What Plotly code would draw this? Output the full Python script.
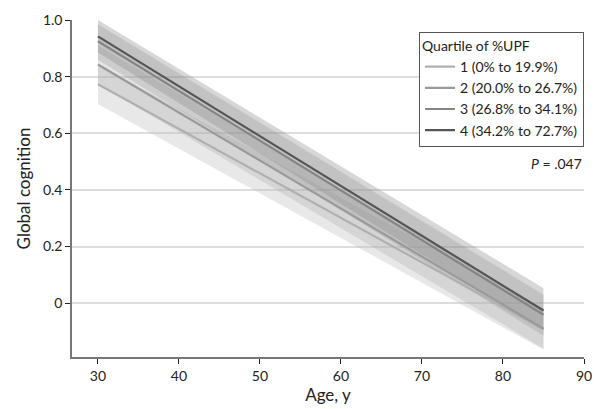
import plotly.graph_objects as go

ages = [30, 85]
quartiles = ["1 (0% to 19.9%)", "2 (20.0% to 26.7%)", "3 (26.8% to 34.1%)", "4 (34.2% to 72.7%)"]
mean_start = [0.773, 0.843, 0.925, 0.942]
mean_end = [-0.092, -0.090, -0.041, -0.026]
lower_start = [0.703, 0.775, 0.860, 0.885]
upper_start = [0.843, 0.910, 0.985, 1.000]
lower_end = [-0.164, -0.160, -0.115, -0.095]
upper_end = [-0.020, -0.020, 0.030, 0.053]
line_colors = ["#b0b0b0", "#9a9a9a", "#858585", "#555555"]
band_colors = ["rgba(190,190,190,0.35)", "rgba(170,170,170,0.3)", "rgba(150,150,150,0.3)", "rgba(140,140,140,0.35)"]

FONT = "Lato, sans-serif"

fig = go.Figure()
for i in range(4):
    fig.add_trace(go.Scatter(
        x=ages + ages[::-1],
        y=[lower_start[i], lower_end[i], upper_end[i], upper_start[i]],
        fill="toself", fillcolor=band_colors[i], line=dict(width=0),
        mode="lines", showlegend=False, hoverinfo="skip"))
for i in range(4):
    fig.add_trace(go.Scatter(
        x=ages, y=[mean_start[i], mean_end[i]], mode="lines",
        line=dict(color=line_colors[i], width=2.2), name=quartiles[i]))

fig.add_annotation(x=1.0, y=0.495, xref="paper", yref="y", text="<i>P</i> = .047",
                   showarrow=False, xanchor="right", yanchor="middle",
                   font=dict(size=14, color="#222", family=FONT))

fig.update_layout(
    width=594, height=409, plot_bgcolor="white", paper_bgcolor="white",
    margin=dict(l=72, r=10, t=20, b=52),
    font=dict(family=FONT, size=14, color="#222"),
    legend=dict(title=dict(text="Quartile of %UPF", font=dict(size=14)),
                x=1.0, xanchor="right", y=0.965, yanchor="top",
                bordercolor="#555", borderwidth=1, bgcolor="white",
                font=dict(size=14), tracegroupgap=0),
    xaxis=dict(range=[26.8, 90], tickvals=[30, 40, 50, 60, 70, 80, 90],
               showgrid=False, showline=True, linecolor="#777", linewidth=1.5,
               ticks="outside", ticklen=5, tickcolor="#222", automargin=False,
               title=dict(text="Age, y", standoff=4), zeroline=False),
    yaxis=dict(range=[-0.19, 1.0], tickvals=[0, 0.2, 0.4, 0.6, 0.8, 1.0],
               ticktext=["0", "0.2", "0.4", "0.6", "0.8", "1.0"],
               showgrid=True, gridcolor="#dddddd", gridwidth=1.5,
               showline=True, linecolor="#777", linewidth=1.5,
               ticks="outside", ticklen=5, tickcolor="#222", automargin=False,
               title=dict(text="Global cognition", standoff=8), zeroline=False),
)
fig.write_html("out.html")
